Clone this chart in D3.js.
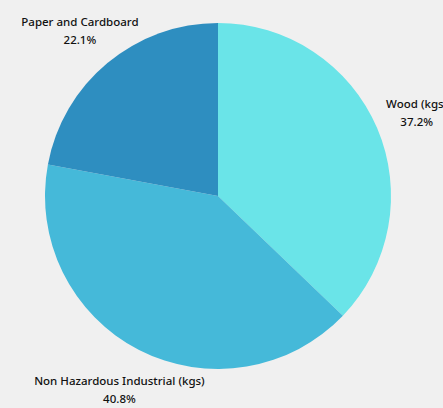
<!DOCTYPE html>
<html>
<head>
<meta charset="utf-8">
<script src="https://cdn.jsdelivr.net/npm/d3@7"></script>
<style>
  html, body { margin: 0; padding: 0; background: #f0f0f0; overflow: hidden; }
  text { font-family: "Noto Sans", sans-serif; fill: #111; font-weight: 500; }
</style>
</head>
<body>
<div id="container"></div>
<script>
// slice data, clockwise from 12 o'clock
var categories = ["Wood (kgs)", "Non Hazardous Industrial (kgs)", "Paper and Cardboard"];
var values = [37.2, 40.8, 22.1];
var colors = ["#6ae4e8", "#45b9d9", "#2e8ec0"];

var width = 443, height = 408;
var cx = 218, cy = 196, radius = 173;

var svg = d3.select("#container").append("svg")
    .attr("width", width)
    .attr("height", height)
    .style("background", "#f0f0f0");

var pie = d3.pie().sort(null).value(function(d) { return d; });
var arcs = pie(values);

var arc = d3.arc().innerRadius(0).outerRadius(radius);
var labelArc = d3.arc().innerRadius(216).outerRadius(216);

var g = svg.append("g").attr("transform", "translate(" + cx + "," + cy + ")");

g.selectAll("path")
  .data(arcs)
  .enter()
  .append("path")
  .attr("d", arc)
  .attr("fill", function(d, i) { return colors[i]; });

var labels = g.selectAll("text.label")
  .data(arcs)
  .enter()
  .append("text")
  .attr("class", "label")
  .attr("transform", function(d) { return "translate(" + labelArc.centroid(d) + ")"; })
  .style("text-anchor", "middle")
  .style("font-size", "11.5px");

labels.append("tspan")
  .attr("x", 0)
  .attr("dy", "-0.3em")
  .text(function(d, i) { return categories[i]; });

labels.append("tspan")
  .attr("x", 0)
  .attr("dy", "1.55em")
  .text(function(d) { return d.value.toFixed(1) + "%"; });
</script>
</body>
</html>
